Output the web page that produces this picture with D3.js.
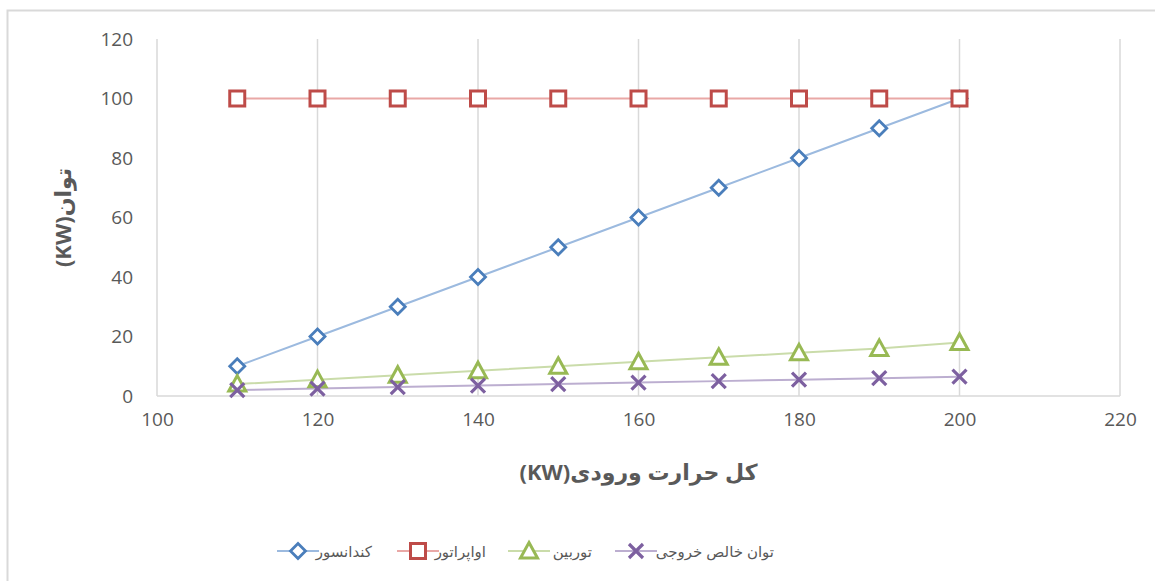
<!DOCTYPE html>
<html>
<head>
<meta charset="utf-8">
<script src="https://cdn.jsdelivr.net/npm/d3@7"></script>
<style>
  html, body { margin: 0; padding: 0; background: #fff; }
  svg { display: block; }
  text { font-family: "Open Sans", "DejaVu Sans", sans-serif; }
</style>
</head>
<body>
<svg id="chart" width="1155" height="581"></svg>
<script>
// Heat input (KW) on the x axis
const heatInput = [110, 120, 130, 140, 150, 160, 170, 180, 190, 200];
// Power of each component (KW)
const condenser = [10, 20, 30, 40, 50, 60, 70, 80, 90, 100];
const evaporator = [100, 100, 100, 100, 100, 100, 100, 100, 100, 100];
const turbine = [4, 5.5, 7, 8.5, 10, 11.5, 13, 14.5, 16, 18];
const netOutput = [2, 2.5, 3, 3.5, 4, 4.5, 5, 5.5, 6, 6.5];

const seriesNames = ["کندانسور", "اواپراتور", "توربین", "توان خالص خروجی"];
const xTicks = [100, 120, 140, 160, 180, 200, 220];
const yTicks = [0, 20, 40, 60, 80, 100, 120];
const xTitle = "کل حرارت ورودی(KW)";
const yTitle = "توان(KW)";

const series = [
  { name: seriesNames[0], values: condenser, marker: "diamond", stroke: "#4a7ebb", line: "#9cbadf" },
  { name: seriesNames[1], values: evaporator, marker: "square", stroke: "#be4b48", line: "#e9a8a6" },
  { name: seriesNames[2], values: turbine, marker: "triangle", stroke: "#98b954", line: "#cadcaa" },
  { name: seriesNames[3], values: netOutput, marker: "cross", stroke: "#7d60a0", line: "#bcaed0" }
];

const svg = d3.select("#chart");

// Outer chart border (top and left edges visible)
svg.append("path")
  .attr("d", "M7.5,581 L7.5,10.5 L1155,10.5")
  .attr("fill", "none").attr("stroke", "#d9d9d9").attr("stroke-width", 2);

const plot = { left: 157, right: 1120, top: 39, bottom: 396 };
const x = d3.scaleLinear().domain([100, 220]).range([plot.left, plot.right]);
const y = d3.scaleLinear().domain([0, 120]).range([plot.bottom, plot.top]);

// Vertical gridlines
svg.append("g")
  .selectAll("line")
  .data(xTicks)
  .join("line")
  .attr("x1", d => x(d)).attr("x2", d => x(d))
  .attr("y1", y(120)).attr("y2", y(0))
  .attr("stroke", "#d9d9d9").attr("stroke-width", 1.5);

// Horizontal axis line
svg.append("line")
  .attr("x1", x(100)).attr("x2", x(220))
  .attr("y1", y(0)).attr("y2", y(0))
  .attr("stroke", "#d9d9d9").attr("stroke-width", 1.5);

// Tick labels via d3 axes (domain/ticks hidden)
const xAxis = svg.append("g")
  .attr("transform", `translate(0,${plot.bottom})`)
  .call(d3.axisBottom(x).tickValues(xTicks).tickSize(0).tickPadding(17));
const yAxis = svg.append("g")
  .attr("transform", `translate(${plot.left},0)`)
  .call(d3.axisLeft(y).tickValues(yTicks).tickSize(0).tickPadding(24));
[xAxis, yAxis].forEach(g => {
  g.select(".domain").remove();
  g.selectAll("text")
    .attr("fill", "#595959")
    .style("font-family", "'Open Sans', 'DejaVu Sans', sans-serif")
    .style("font-size", "19px");
});

// Axis titles
svg.append("text")
  .attr("x", (plot.left + plot.right) / 2).attr("y", 480)
  .attr("text-anchor", "middle")
  .attr("fill", "#595959")
  .style("font-size", "22px").style("font-weight", "bold")
  .attr("direction", "rtl")
  .text(xTitle);

svg.append("text")
  .attr("transform", `translate(71,${(plot.top + plot.bottom) / 2}) rotate(-90)`)
  .attr("text-anchor", "middle")
  .attr("fill", "#595959")
  .style("font-size", "22px").style("font-weight", "bold")
  .attr("direction", "rtl")
  .text(yTitle);

// Marker drawing
function drawMarker(g, type, color) {
  if (type === "diamond") {
    g.append("path").attr("d", "M0,-7.5 L7.5,0 L0,7.5 L-7.5,0 Z")
      .attr("fill", "#fff").attr("stroke", color).attr("stroke-width", 2.8);
  } else if (type === "square") {
    g.append("rect").attr("x", -7.5).attr("y", -7.5).attr("width", 15).attr("height", 15)
      .attr("fill", "#fff").attr("stroke", color).attr("stroke-width", 3);
  } else if (type === "triangle") {
    g.append("path").attr("d", "M0,-8.5 L8.5,7 L-8.5,7 Z")
      .attr("fill", "#fff").attr("stroke", color).attr("stroke-width", 3)
      .attr("stroke-linejoin", "miter");
  } else if (type === "cross") {
    g.append("path").attr("d", "M-7,-7 L7,7 M7,-7 L-7,7")
      .attr("fill", "none").attr("stroke", color).attr("stroke-width", 3.2);
  }
}

const line = d3.line().x(d => x(d[0])).y(d => y(d[1]));

// Series: lines first, then markers
series.forEach(s => {
  const pts = heatInput.map((h, i) => [h, s.values[i]]);
  svg.append("path").datum(pts)
    .attr("d", line)
    .attr("fill", "none").attr("stroke", s.line).attr("stroke-width", 2);
});
series.forEach(s => {
  heatInput.forEach((h, i) => {
    const g = svg.append("g").attr("transform", `translate(${x(h)},${y(s.values[i])})`);
    drawMarker(g, s.marker, s.stroke);
  });
});

// Legend
const legendY = 551;
const legendItems = [
  { s: series[0], lx: 277, tx: 372 },
  { s: series[1], lx: 397, tx: 486 },
  { s: series[2], lx: 508, tx: 592 },
  { s: series[3], lx: 615, tx: 774 }
];
legendItems.forEach(it => {
  const g = svg.append("g");
  g.append("line")
    .attr("x1", it.lx).attr("x2", it.lx + 42)
    .attr("y1", legendY).attr("y2", legendY)
    .attr("stroke", it.s.line).attr("stroke-width", 2);
  const m = g.append("g").attr("transform", `translate(${it.lx + 21},${legendY})`);
  drawMarker(m, it.s.marker, it.s.stroke);
  g.append("text")
    .attr("x", it.tx).attr("y", legendY + 6)
    .attr("text-anchor", "end")
    .attr("fill", "#595959")
    .style("font-size", "15px")
    .text(it.s.name);
});
</script>
</body>
</html>
